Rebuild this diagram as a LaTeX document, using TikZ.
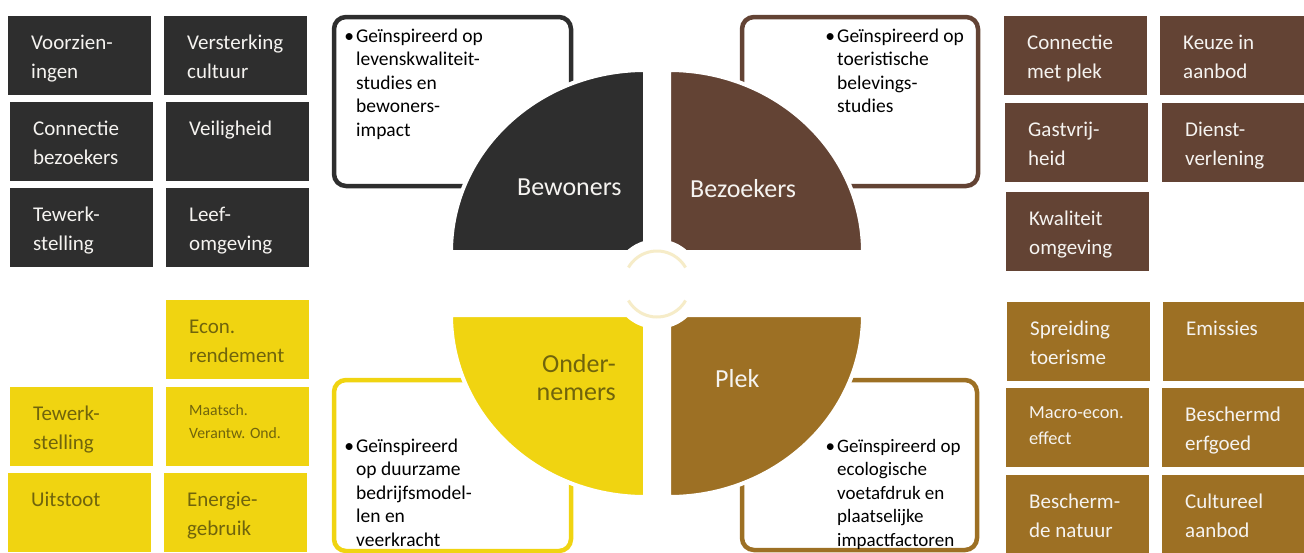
\documentclass[tikz,border=0pt]{standalone}
\usepackage{fontspec}
\setmainfont{Carlito}
\usetikzlibrary{calc}
\definecolor{darkq}{RGB}{46,46,46}
\definecolor{brownq}{RGB}{99,67,52}
\definecolor{yellowq}{RGB}{240,212,17}
\definecolor{goldq}{RGB}{157,112,36}
\definecolor{creamq}{RGB}{246,236,200}
\definecolor{oliveq}{RGB}{112,100,12}
\definecolor{lighttxt}{RGB}{245,243,240}
\tikzset{
  tilebox/.style={anchor=north west, inner sep=0pt, outer sep=0pt, draw=none, minimum height=79},
  boxtxt/.style={anchor=north west, inner sep=0pt, align=left, font=\fontsize{21}{29}\selectfont},
  framebox/.style={anchor=north west, inner sep=0pt, outer sep=0pt, fill=white, line width=4.5pt, rounded corners=12pt},
  bultxt/.style={anchor=north west, inner sep=0pt, align=left, text=black, font=\fontsize{19.5}{23.5}\selectfont},
  quad/.style={draw=white, line width=4pt},
  qlabel/.style={anchor=base west, inner sep=0pt, font=\fontsize{26}{28}\selectfont},
}
% #1 name, #2 fill, #3 text colour, #4 x, #5 y, #6 width, #7 text
\newcommand\tile[7]{%
  \node[tilebox, fill=#2, minimum width=#6] (#1) at (#4,#5) {};
  \node[boxtxt, text=#3] (#1t) at ($(#1.north west)+(23,12.7)$) {\rule{0pt}{20.3pt}#7};}
\newcommand\bul{\rule{0pt}{16.45pt}\llap{•\kern2pt}}
\begin{document}
\begin{tikzpicture}[x=1pt,y=-1pt]
\useasboundingbox (0,0) rectangle (1304,552);
\clip (0,0) rectangle (1304,552);
% dark tiles (Bewoners)
\tile{d1}{darkq}{lighttxt}{8}{16}{143}{Voorzien-\\ingen}
\tile{d2}{darkq}{lighttxt}{164}{16}{143}{Versterking\\cultuur}
\tile{d3}{darkq}{lighttxt}{10}{102}{143}{Connectie\\bezoekers}
\tile{d4}{darkq}{lighttxt}{166}{102}{143}{Veiligheid}
\tile{d5}{darkq}{lighttxt}{10}{188}{143}{Tewerk-\\stelling}
\tile{d6}{darkq}{lighttxt}{166}{188}{143}{Leef-\\omgeving}
% brown tiles (Bezoekers)
\tile{b1}{brownq}{lighttxt}{1004}{16}{143}{Connectie\\met plek}
\tile{b2}{brownq}{lighttxt}{1160}{16}{146}{Keuze in\\aanbod}
\tile{b3}{brownq}{lighttxt}{1005}{103}{143}{Gastvrij-\\heid}
\tile{b4}{brownq}{lighttxt}{1162}{103}{144}{Dienst-\\verlening}
\tile{b5}{brownq}{lighttxt}{1006}{192}{143}{Kwaliteit\\omgeving}
% yellow tiles (Ondernemers)
\tile{y1}{yellowq}{oliveq}{166}{300}{143}{Econ.\\rendement}
\tile{y2}{yellowq}{oliveq}{10}{387}{143}{Tewerk-\\stelling}
\node[tilebox, fill=yellowq, minimum width=143] (y3) at (166,387) {};
\node[anchor=north west, inner sep=0pt, align=left, text=oliveq, font=\fontsize{15.7}{23}\selectfont] (y3t) at ($(y3.north west)+(23,11.9)$) {\rule{0pt}{16.1pt}Maatsch.\\Verantw. Ond.};
\tile{y4}{yellowq}{oliveq}{8}{473}{143}{Uitstoot}
\tile{y5}{yellowq}{oliveq}{164}{473}{143}{Energie-\\gebruik}
% gold tiles (Plek)
\tile{g1}{goldq}{lighttxt}{1007}{302}{143}{Spreiding\\toerisme}
\tile{g2}{goldq}{lighttxt}{1163}{302}{143}{Emissies}
\node[tilebox, fill=goldq, minimum width=143] (g3) at (1006,388) {};
\node[anchor=north west, inner sep=0pt, align=left, text=lighttxt, font=\fontsize{18.4}{26}\selectfont] (g3t) at ($(g3.north west)+(23,11.8)$) {\rule{0pt}{18.2pt}Macro-econ.\\effect};
\tile{g4}{goldq}{lighttxt}{1162}{388}{144}{Beschermd\\erfgoed}
\tile{g5}{goldq}{lighttxt}{1006}{475}{143}{Bescherm-\\de natuur}
\tile{g6}{goldq}{lighttxt}{1162}{475}{144}{Cultureel\\aanbod}
% framed text boxes
\node[framebox, draw=darkq, minimum width=237, minimum height=169] (fbw) at (334,17) {};
\node[framebox, draw=brownq, minimum width=236, minimum height=169] (fbz) at (742,17) {};
\node[framebox, draw=yellowq, minimum width=237, minimum height=171] (fon) at (334,380) {};
\node[framebox, draw=goldq, minimum width=235, minimum height=170] (fpl) at (742,380) {};
% quadrants
\path[quad, fill=darkq] (645,252) -- (451,252) arc[start angle=180, end angle=270, x radius=194, y radius=182] -- cycle;
\path[quad, fill=brownq] (669,252) -- (669,70) arc[start angle=270, end angle=360, x radius=194, y radius=182] -- cycle;
\path[quad, fill=yellowq] (645,315) -- (451,315) arc[start angle=180, end angle=90, x radius=194, y radius=182] -- cycle;
\path[quad, fill=goldq] (669,315) -- (863,315) arc[start angle=0, end angle=90, x radius=194, y radius=182] -- cycle;
% centre circle
\node[circle, fill=white, minimum size=90, inner sep=0pt] (ctr) at (657,284) {};
\draw[creamq, line width=3pt] ($(ctr.center)+(210:33)$) arc[start angle=210, end angle=330, radius=33];
\draw[creamq, line width=3pt] ($(ctr.center)+(30:33)$) arc[start angle=30, end angle=150, radius=33];
% quadrant labels
\node[qlabel, text=lighttxt] (lbw) at (517,195) {Bewoners};
\node[qlabel, text=lighttxt] (lbz) at (690,197) {Bezoekers};
\node[qlabel, text=lighttxt] (lpl) at (715,387) {Plek};
\node[anchor=north east, inner sep=0pt, align=right, text=oliveq, font=\fontsize{26}{28}\selectfont] (lon) at (616,352.4) {\rule{0pt}{19.6pt}Onder-\\nemers};
% bullet texts
\node[bultxt] (tbw) at (356,25.5) {\bul Geïnspireerd op\\levenskwaliteit-\\studies en\\bewoners-\\impact};
\node[bultxt] (tbz) at (837,25.5) {\bul Geïnspireerd op\\toeristische\\belevings-\\studies};
\node[bultxt] (ton) at (356,435.5) {\bul Geïnspireerd\\op duurzame\\bedrijfsmodel-\\len en\\veerkracht};
\node[bultxt, font=\fontsize{19}{23.5}\selectfont] (tpl) at (837,435.5) {\bul Geïnspireerd op\\ecologische\\voetafdruk en\\plaatselijke\\impactfactoren};
\end{tikzpicture}
\end{document}
